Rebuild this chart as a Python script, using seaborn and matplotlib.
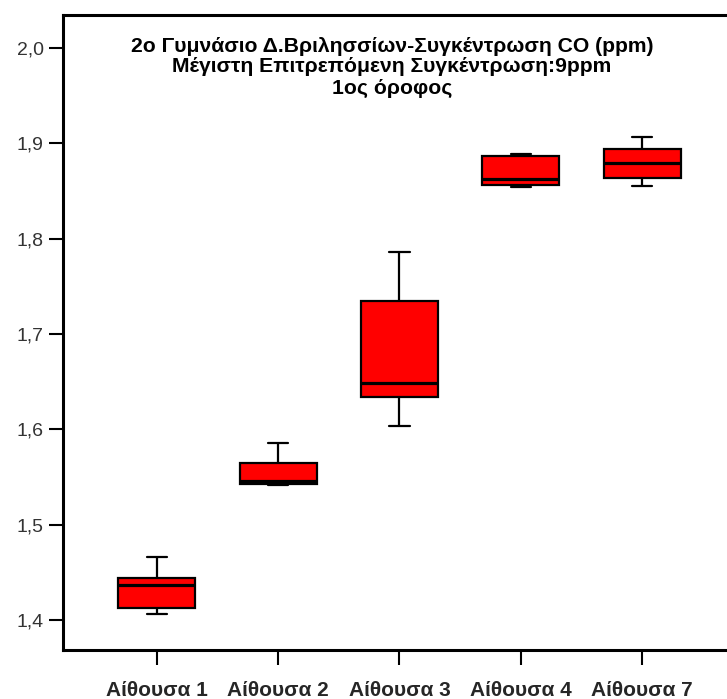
import matplotlib
matplotlib.use("Agg")
import matplotlib.pyplot as plt
from matplotlib.ticker import FuncFormatter
import seaborn as sns
import pandas as pd

# CO concentration (ppm) per classroom: lower whisker, Q1, median, Q3, upper whisker
rooms = ["Αίθουσα 1", "Αίθουσα 2", "Αίθουσα 3", "Αίθουσα 4", "Αίθουσα 7"]
room1 = [1.406, 1.413, 1.437, 1.444, 1.466]
room2 = [1.542, 1.543, 1.546, 1.565, 1.586]
room3 = [1.604, 1.634, 1.649, 1.735, 1.786]
room4 = [1.854, 1.856, 1.863, 1.887, 1.889]
room7 = [1.855, 1.864, 1.879, 1.894, 1.907]
yticks = [1.4, 1.5, 1.6, 1.7, 1.8, 1.9, 2.0]
title_lines = [
    "2ο Γυμνάσιο Δ.Βριλησσίων-Συγκέντρωση CO (ppm)",
    "Μέγιστη Επιτρεπόμενη Συγκέντρωση:9ppm",
    "1ος όροφος",
]

series = [room1, room2, room3, room4, room7]
df = pd.DataFrame(
    [(r, v) for r, vals in zip(rooms, series) for v in vals],
    columns=["room", "co"],
)

sns.set_theme(style="white")
plt.rcParams["font.family"] = ["Liberation Sans", "DejaVu Sans"]
bold_font = ["Liberation Sans", "DejaVu Sans"]

W, H = 727, 699
fig = plt.figure(figsize=(W / 100, H / 100), dpi=100)
ax = fig.add_axes([63 / W, (H - 650) / H, (736 - 63) / W, 635 / H])

kws = dict(data=df, x="room", y="co", order=rooms, width=0.635,
           color="#ff0000", saturation=1, linecolor="black", linewidth=1.6,
           whis=1.5, ax=ax,
           medianprops=dict(color="black", linewidth=2.3))
try:
    sns.boxplot(capwidths=0.165, **kws)
except TypeError:
    sns.boxplot(**kws)

ax.set_xlim(-0.775, 4.775)
ax.set_ylim(1.3685, 2.0348)
ax.set_yticks(yticks)
ax.yaxis.set_major_formatter(FuncFormatter(lambda v, p: f"{v:.1f}".replace(".", ",")))
ax.set_xlabel("")
ax.set_ylabel("")

for side in ["left", "bottom", "top", "right"]:
    ax.spines[side].set_visible(True)
    ax.spines[side].set_color("black")
    ax.spines[side].set_linewidth(2.2)

ax.tick_params(axis="y", direction="out", length=10, width=1.5, pad=4,
               labelsize=14, labelcolor="#333333", left=True, color="black")
ax.tick_params(axis="x", direction="out", length=11, width=1.5, pad=11,
               labelsize=15, bottom=True, color="black")
for lbl in ax.get_xticklabels():
    lbl.set_fontweight("bold")
    lbl.set_family(bold_font)

# Three-line chart title inside the plotting area
title_y = [47, 67, 88]
for line, yp in zip(title_lines, title_y):
    fig.text(392 / W, 1 - yp / H, line, ha="center", va="center",
             fontsize=15.2, fontweight="bold", family=bold_font, color="black")

fig.savefig("out.png", dpi=100)
